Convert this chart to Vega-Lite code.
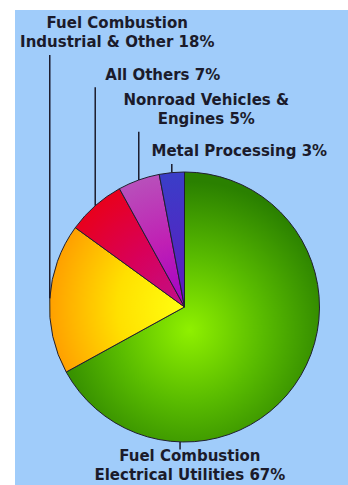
{
  "$schema": "https://vega.github.io/schema/vega-lite/v6.json",
  "width": 333,
  "height": 475,
  "autosize": "none",
  "padding": {"left": 15, "top": 10, "right": 0, "bottom": 0},
  "background": "white",
  "config": {"view": {"stroke": null, "fill": "#a0ccfa"}},
  "data": {
    "values": [
      {"source": "Fuel Combustion Electrical Utilities", "label": ["Fuel Combustion", "Electrical Utilities 67%"], "pct": 67},
      {"source": "Fuel Combustion Industrial & Other", "label": ["Fuel Combustion", "Industrial & Other 18%"], "pct": 18},
      {"source": "All Others", "label": ["All Others 7%"], "pct": 7},
      {"source": "Nonroad Vehicles & Engines", "label": ["Nonroad Vehicles &", "Engines 5%"], "pct": 5},
      {"source": "Metal Processing", "label": ["Metal Processing 3%"], "pct": 3}
    ]
  },
  "transform": [
    {"stack": "pct", "groupby": [], "sort": [{"field": "pct", "order": "descending"}], "as": ["p0", "p1"]},
    {"calculate": "datum.label.length", "as": "nlines"},
    {"window": [{"op": "row_number", "as": "rank"}, {"op": "sum", "field": "nlines", "as": "cumIncl"}], "sort": [{"field": "pct", "order": "descending"}]},
    {"calculate": "datum.cumIncl - datum.nlines", "as": "cum"},
    {"calculate": "(datum.p0 + datum.p1) * PI / 100", "as": "mid"},
    {"calculate": "datum.rank == 1 ? -0.033 : sin(datum.mid)", "as": "leadX"},
    {"calculate": "datum.rank == 1 ? -1 : cos(datum.mid)", "as": "leadY1"},
    {"calculate": "datum.rank == 1 ? -1.055 : (271 - 25.6 * (datum.cum - 2) - 19 * (datum.nlines - 1)) / 135", "as": "leadY2"},
    {"calculate": "datum.rank == 1 ? 0.04 : sin(datum.mid) + 0.5", "as": "labX"},
    {"calculate": "datum.rank == 1 ? -1.052 : (290.5 - 25.6 * (datum.cum - 2)) / 135", "as": "labY"}
  ],
  "layer": [
    {
      "mark": {"type": "arc", "outerRadius": 135, "stroke": "#202030", "strokeWidth": 1, "strokeJoin": "round"},
      "encoding": {
        "x": {"datum": 0, "type": "quantitative", "scale": {"domain": [-1.25556, 1.21111], "nice": false, "zero": false}, "axis": null},
        "y": {"datum": 0, "type": "quantitative", "scale": {"domain": [-1.31852, 2.2], "nice": false, "zero": false}, "axis": null},
        "theta": {"field": "p0", "type": "quantitative", "scale": {"domain": [0, 100]}},
        "theta2": {"field": "p1"},
        "fill": {
          "condition": [
            {"test": "datum.rank == 1", "value": {"gradient": "radial", "x1": 0.487, "y1": 0.585, "r1": 0, "x2": 0.487, "y2": 0.585, "r2": 0.55,
              "stops": [{"offset": 0, "color": "#8ff000"}, {"offset": 0.5, "color": "#58ba00"}, {"offset": 1, "color": "#2a8000"}]}},
            {"test": "datum.rank == 2", "value": {"gradient": "radial", "x1": 0.968, "y1": 0.55, "r1": 0, "x2": 0.968, "y2": 0.55, "r2": 0.935,
              "stops": [{"offset": 0, "color": "#ffff10"}, {"offset": 0.5, "color": "#ffe000"}, {"offset": 1, "color": "#ffa000"}]}},
            {"test": "datum.rank == 3", "value": {"gradient": "radial", "x1": 0.961, "y1": 1.0, "r1": 0, "x2": 0.961, "y2": 1.0, "r2": 1.14,
              "stops": [{"offset": 0, "color": "#c0108c"}, {"offset": 0.5, "color": "#d8005a"}, {"offset": 1, "color": "#e8001c"}]}},
            {"test": "datum.rank == 4", "value": {"gradient": "radial", "x1": 0.745, "y1": 1.0, "r1": 0, "x2": 0.745, "y2": 1.0, "r2": 1.02,
              "stops": [{"offset": 0, "color": "#a000c8"}, {"offset": 0.5, "color": "#c020b4"}, {"offset": 1, "color": "#b850bb"}]}}
          ],
          "value": {"gradient": "radial", "x1": 0.594, "y1": 1.0, "r1": 0, "x2": 0.594, "y2": 1.0, "r2": 1.0,
            "stops": [{"offset": 0, "color": "#6018c0"}, {"offset": 1, "color": "#3a3ec8"}]}
        }
      }
    },
    {
      "mark": {"type": "rule", "color": "#1b1b2b", "strokeWidth": 1.5},
      "encoding": {
        "x": {"field": "leadX", "type": "quantitative", "scale": {"domain": [-1.25556, 1.21111], "nice": false, "zero": false}, "axis": null},
        "y": {"field": "leadY1", "type": "quantitative", "scale": {"domain": [-1.31852, 2.2], "nice": false, "zero": false}, "axis": null},
        "y2": {"field": "leadY2"}
      }
    },
    {
      "mark": {"type": "text", "font": "DejaVu Sans", "fontSize": 15, "fontWeight": "bold", "align": "center", "baseline": "top", "lineHeight": 18.5, "color": "#1b1b2b"},
      "encoding": {
        "x": {"field": "labX", "type": "quantitative", "scale": {"domain": [-1.25556, 1.21111], "nice": false, "zero": false}, "axis": null},
        "y": {"field": "labY", "type": "quantitative", "scale": {"domain": [-1.31852, 2.2], "nice": false, "zero": false}, "axis": null},
        "text": {"field": "label", "type": "nominal"}
      }
    }
  ]
}
